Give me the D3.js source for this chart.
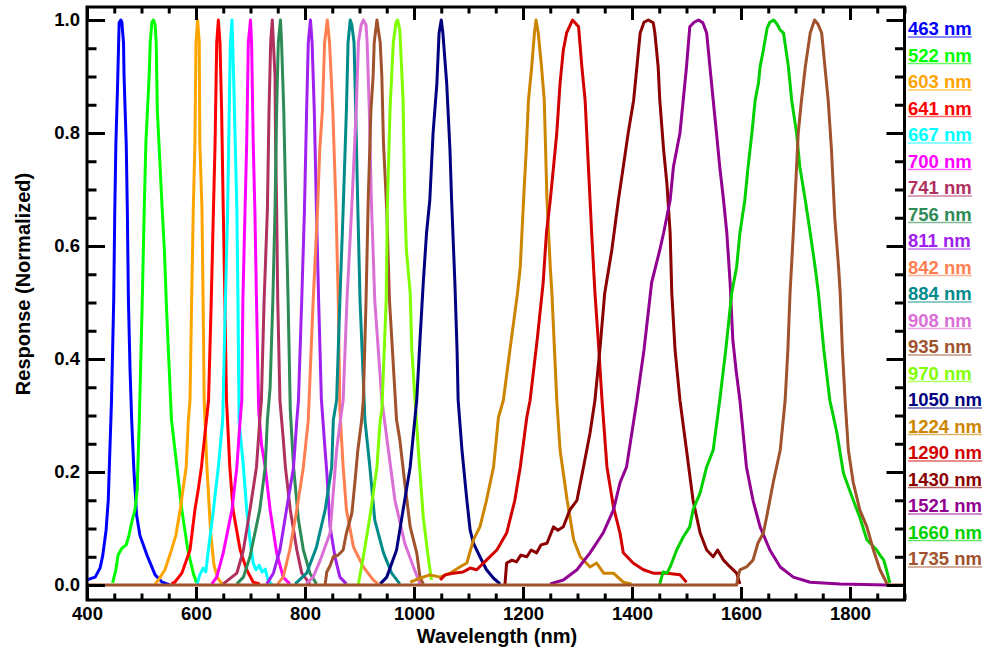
<!DOCTYPE html>
<html><head><meta charset="utf-8">
<script src="https://cdn.jsdelivr.net/npm/d3@7"></script>
<style>
body{margin:0;background:#fff}
text{font-family:"Liberation Sans",Arial,Helvetica,sans-serif;font-weight:bold}
</style>
</head><body>
<svg id="chart" width="987" height="650"></svg>
<script>
// ---------- data ----------
const bandLabels = ["463 nm","522 nm","603 nm","641 nm","667 nm","700 nm","741 nm","756 nm","811 nm","842 nm","884 nm","908 nm","935 nm","970 nm","1050 nm","1224 nm","1290 nm","1430 nm","1521 nm","1660 nm","1735 nm"];
const xMajorTicks = [400,600,800,1000,1200,1400,1600,1800];
const yMajorTicks = [0,0.2,0.4,0.6,0.8,1.0];
const yTickLabels = ["0.0","0.2","0.4","0.6","0.8","1.0"];

const r463 = [[400,0.009],[415,0.014],[424,0.03],[429,0.053],[435,0.097],[439,0.15],[442,0.239],[445,0.327],[449,0.504],[451,0.664],[453,0.782],[456,0.881],[459,0.995],[462,1],[464,0.996],[467,0.96],[468,0.9],[472,0.78],[474,0.664],[476,0.504],[479,0.38],[482,0.292],[486,0.204],[491,0.124],[497,0.088],[510,0.053],[525,0.018],[538,0.005],[552,0]];
const r522 = [[447,0.004],[453,0.027],[457,0.053],[464,0.065],[472,0.071],[477,0.088],[483,0.115],[488,0.133],[492,0.168],[496,0.292],[501,0.487],[505,0.664],[508,0.782],[511,0.841],[514,0.9],[516,0.96],[519,0.996],[522,1],[525,0.991],[527,0.96],[529,0.841],[532,0.782],[538,0.664],[542,0.593],[546,0.487],[555,0.292],[565,0.209],[574,0.133],[585,0.062],[595,0.021],[601,0.004]];
const r603 = [[525,0.002],[531,0.009],[543,0.027],[555,0.062],[563,0.088],[571,0.133],[576,0.168],[582,0.209],[586,0.292],[589,0.327],[592,0.504],[595,0.664],[598,0.782],[600,0.96],[603,1],[606,0.96],[607,0.782],[611,0.664],[613,0.504],[615,0.327],[620,0.209],[627,0.092],[633,0.035],[640,0.012],[648,0.002]];
const r641 = [[555,0.002],[561,0.005],[574,0.021],[589,0.062],[598,0.133],[604,0.168],[610,0.209],[623,0.327],[628,0.504],[632,0.664],[635,0.782],[638,0.96],[641,1],[644,0.96],[647,0.841],[650,0.664],[653,0.504],[656,0.327],[662,0.209],[668,0.133],[681,0.062],[693,0.027],[705,0.005],[717,0.002]];
const r667 = [[602,0.002],[607,0.018],[613,0.03],[618,0.023],[622,0.057],[632,0.133],[641,0.209],[649,0.292],[654,0.504],[658,0.664],[661,0.841],[663,0.96],[666,1],[669,0.9],[672,0.782],[675,0.664],[677,0.504],[679,0.292],[687,0.209],[693,0.133],[699,0.08],[705,0.039],[710,0.027],[716,0.035],[721,0.023],[727,0.028],[732,0.009],[740,0]];
const r700 = [[629,0.002],[638,0.014],[650,0.057],[666,0.133],[675,0.209],[681,0.292],[684,0.327],[686,0.504],[690,0.664],[693,0.782],[696,0.96],[700,1],[702,0.96],[705,0.782],[708,0.664],[711,0.504],[715,0.31],[720,0.25],[727,0.209],[736,0.133],[748,0.057],[760,0.014],[772,0.002]];
const r741 = [[650,0.002],[675,0.021],[687,0.062],[699,0.133],[711,0.209],[717,0.292],[720,0.327],[725,0.504],[731,0.664],[734,0.841],[737,0.96],[740,1],[745,0.9],[746,0.782],[748,0.664],[750,0.504],[754,0.327],[760,0.26],[764,0.209],[773,0.133],[785,0.062],[794,0.021],[809,0.002]];
const r756 = [[675,0.002],[687,0.014],[699,0.05],[717,0.133],[727,0.209],[731,0.292],[736,0.35],[741,0.504],[745,0.664],[748,0.841],[751,0.96],[755,1],[757,0.96],[761,0.841],[765,0.664],[769,0.504],[773,0.31],[779,0.209],[788,0.115],[797,0.062],[809,0.021],[821,0.002]];
const r811 = [[730,0.002],[742,0.021],[754,0.062],[766,0.133],[779,0.209],[785,0.292],[788,0.327],[794,0.504],[799,0.664],[803,0.841],[806,0.96],[810,1],[813,0.96],[817,0.841],[821,0.664],[825,0.504],[830,0.33],[836,0.25],[840,0.2],[846,0.103],[855,0.05],[864,0.014],[876,0.002]];
const r842 = [[750,0.002],[760,0.014],[772,0.062],[785,0.133],[797,0.209],[806,0.292],[815,0.504],[823,0.664],[827,0.77],[832,0.841],[836,0.96],[841,1],[845,0.96],[851,0.841],[857,0.664],[861,0.504],[864,0.31],[870,0.209],[876,0.133],[889,0.067],[907,0.032],[925,0.009],[934,0.002]];
const r884 = [[782,0.002],[803,0.021],[821,0.067],[837,0.133],[849,0.209],[852,0.292],[858,0.327],[864,0.504],[870,0.664],[876,0.841],[879,0.96],[883,1],[886,0.991],[890,0.96],[893,0.841],[897,0.664],[901,0.504],[910,0.292],[919,0.209],[928,0.115],[944,0.057],[959,0.021],[974,0.002]];
const r908 = [[802,0.002],[815,0.014],[828,0.044],[846,0.092],[858,0.239],[865,0.292],[870,0.327],[877,0.504],[886,0.673],[894,0.841],[898,0.96],[903,0.991],[907,1],[912,0.991],[914,0.96],[918,0.841],[922,0.673],[928,0.504],[941,0.327],[953,0.239],[965,0.15],[983,0.074],[999,0.032],[1011,0.002]];
const r935 = [[837,0.002],[840,0.023],[846,0.034],[852,0.05],[861,0.053],[870,0.062],[876,0.092],[886,0.127],[892,0.186],[897,0.239],[904,0.292],[907,0.327],[912,0.504],[916,0.681],[921,0.841],[925,0.9],[927,0.96],[932,1],[938,0.96],[941,0.9],[944,0.782],[950,0.664],[955,0.504],[968,0.292],[974,0.257],[983,0.181],[993,0.103],[1005,0.057],[1011,0.014],[1017,0.002]];
const r970 = [[898,0.002],[907,0.05],[919,0.12],[932,0.209],[938,0.292],[941,0.31],[949,0.504],[951,0.664],[956,0.841],[962,0.96],[967,0.996],[970,1],[974,0.982],[980,0.858],[983,0.681],[986,0.593],[993,0.517],[996,0.416],[1002,0.327],[1008,0.239],[1017,0.12],[1026,0.05],[1032,0.009]];
const r1050 = [[938,0.002],[950,0.014],[968,0.062],[980,0.133],[993,0.209],[1005,0.327],[1011,0.434],[1017,0.535],[1023,0.623],[1029,0.681],[1035,0.8],[1042,0.888],[1046,0.977],[1050,1],[1053,0.977],[1060,0.888],[1066,0.77],[1069,0.681],[1075,0.535],[1079,0.416],[1081,0.327],[1088,0.239],[1097,0.15],[1103,0.097],[1109,0.074],[1121,0.05],[1133,0.027],[1146,0.012],[1158,0.002]];
const r1224 = [[993,0.005],[1011,0.012],[1029,0.018],[1048,0.014],[1066,0.021],[1084,0.032],[1097,0.039],[1109,0.08],[1121,0.103],[1133,0.15],[1146,0.209],[1155,0.297],[1164,0.327],[1176,0.416],[1190,0.517],[1195,0.563],[1201,0.681],[1206,0.77],[1210,0.858],[1216,0.917],[1221,0.977],[1224,1],[1228,0.977],[1234,0.917],[1239,0.858],[1244,0.681],[1250,0.563],[1253,0.517],[1262,0.327],[1268,0.239],[1281,0.15],[1293,0.08],[1305,0.05],[1323,0.032],[1335,0.039],[1348,0.021],[1366,0.021],[1384,0.005],[1399,0.002]];
const r1290 = [[1048,0.009],[1057,0.018],[1072,0.021],[1090,0.023],[1103,0.03],[1115,0.027],[1133,0.044],[1152,0.062],[1170,0.092],[1185,0.15],[1195,0.209],[1207,0.297],[1213,0.327],[1226,0.434],[1237,0.535],[1243,0.623],[1250,0.681],[1256,0.74],[1262,0.8],[1268,0.888],[1274,0.947],[1280,0.977],[1291,1],[1302,0.988],[1308,0.917],[1314,0.858],[1320,0.74],[1326,0.623],[1332,0.517],[1338,0.434],[1345,0.327],[1354,0.209],[1366,0.138],[1378,0.092],[1384,0.057],[1402,0.039],[1421,0.027],[1439,0.021],[1464,0.021],[1488,0.018],[1500,0.005]];
const r1430 = [[1167,0.002],[1170,0.039],[1180,0.044],[1188,0.041],[1196,0.053],[1207,0.05],[1215,0.062],[1225,0.057],[1233,0.071],[1244,0.074],[1256,0.103],[1264,0.097],[1274,0.103],[1286,0.133],[1299,0.15],[1311,0.209],[1323,0.269],[1332,0.327],[1341,0.416],[1350,0.517],[1363,0.593],[1375,0.681],[1384,0.74],[1393,0.8],[1403,0.858],[1409,0.917],[1415,0.977],[1422,0.996],[1430,1],[1439,0.995],[1442,0.977],[1448,0.917],[1451,0.858],[1458,0.77],[1464,0.711],[1470,0.623],[1473,0.517],[1479,0.416],[1488,0.327],[1500,0.239],[1512,0.15],[1525,0.092],[1537,0.062],[1549,0.05],[1557,0.062],[1568,0.044],[1580,0.032],[1592,0.021],[1598,0.002]];
const r1521 = [[1250,0.002],[1274,0.009],[1299,0.027],[1323,0.057],[1347,0.092],[1366,0.133],[1378,0.181],[1390,0.209],[1409,0.327],[1422,0.416],[1436,0.535],[1451,0.593],[1458,0.623],[1470,0.681],[1476,0.74],[1482,0.77],[1488,0.8],[1494,0.858],[1500,0.917],[1506,0.988],[1514,0.996],[1522,1],[1530,0.995],[1537,0.977],[1543,0.917],[1549,0.858],[1555,0.8],[1561,0.74],[1568,0.681],[1574,0.623],[1580,0.535],[1585,0.434],[1591,0.38],[1598,0.327],[1610,0.209],[1622,0.15],[1635,0.103],[1653,0.062],[1672,0.032],[1696,0.014],[1727,0.005],[1782,0.002],[1867,0]];
const r1660 = [[1451,0.002],[1457,0.023],[1464,0.021],[1470,0.032],[1482,0.062],[1494,0.085],[1506,0.103],[1512,0.133],[1525,0.163],[1537,0.209],[1549,0.239],[1561,0.327],[1572,0.416],[1583,0.517],[1592,0.563],[1598,0.623],[1607,0.681],[1613,0.74],[1620,0.8],[1626,0.858],[1632,0.888],[1635,0.917],[1641,0.947],[1648,0.986],[1653,0.996],[1660,1],[1666,0.993],[1672,0.982],[1678,0.977],[1687,0.917],[1693,0.858],[1702,0.8],[1708,0.74],[1718,0.681],[1727,0.623],[1736,0.563],[1742,0.517],[1752,0.416],[1763,0.327],[1776,0.269],[1788,0.198],[1806,0.15],[1818,0.12],[1831,0.08],[1849,0.062],[1855,0.053],[1862,0.044],[1867,0.027],[1873,0.004]];
const r1735 = [[400,0],[1592,0],[1594,0.012],[1598,0.027],[1610,0.032],[1622,0.044],[1631,0.074],[1641,0.092],[1647,0.12],[1659,0.181],[1672,0.239],[1681,0.327],[1686,0.416],[1690,0.517],[1696,0.623],[1699,0.681],[1702,0.74],[1705,0.8],[1711,0.858],[1718,0.917],[1727,0.977],[1735,1],[1741,0.993],[1748,0.977],[1754,0.917],[1760,0.858],[1766,0.77],[1769,0.711],[1772,0.651],[1779,0.563],[1782,0.517],[1786,0.416],[1791,0.327],[1797,0.239],[1806,0.181],[1818,0.133],[1831,0.103],[1843,0.062],[1855,0.027],[1867,0.004],[1870,0],[1900,0]];

const seriesData = [r463,r522,r603,r641,r667,r700,r741,r756,r811,r842,r884,r908,r935,r970,r1050,r1224,r1290,r1430,r1521,r1660,r1735];

// ---------- styles ----------
const seriesColors = ["#0000ff","#00ff00","#ffa500","#ff0000","#00ffff","#ff00ff","#b03060","#2e8b57","#a020f0","#ff7f50","#008b8b","#da70d6","#a0522d","#7fff00","#000080","#cd8500","#d20000","#8b0000","#920092","#00d000","#a0522d"];

const L = 87, R = 904.5, T = 7, B = 600;
const svg = d3.select("#chart");

const x = d3.scaleLinear().domain([400,1900]).range([L,R]);
const y = d3.scaleLinear().domain([-0.0265,1.023]).range([B,T]);

svg.append("defs").append("clipPath").attr("id","clip")
  .append("rect").attr("x",L).attr("y",T).attr("width",R-L).attr("height",B-T);

// curves
const line = d3.line().x(d=>x(d[0])).y(d=>y(d[1]));
const g = svg.append("g").attr("clip-path","url(#clip)");
seriesData.forEach((s,i)=>{
  g.append("path").datum(s).attr("d",line)
   .attr("fill","none").attr("stroke",seriesColors[i])
   .attr("stroke-width",3).attr("stroke-linejoin","round");
});

// minor ticks
const xMinor = d3.range(400,1901,50).filter(v=>v%200!==0);
const yMinor = d3.range(0,21).map(k=>k*0.05).filter((v,k)=>k%4!==0);

const noDomain = sel => sel.select(".domain").remove();

// bottom
svg.append("g").attr("transform",`translate(0,${B})`)
  .call(d3.axisBottom(x).tickValues(xMinor).tickSize(-6.5).tickFormat(""))
  .call(noDomain);
svg.append("g").attr("transform",`translate(0,${B})`)
  .call(d3.axisBottom(x).tickValues(xMajorTicks).tickSize(-13).tickPadding(7).tickFormat(d3.format("d")))
  .call(noDomain);
// top
svg.append("g").attr("transform",`translate(0,${T})`)
  .call(d3.axisTop(x).tickValues(xMinor).tickSize(-6.5).tickFormat(""))
  .call(noDomain);
svg.append("g").attr("transform",`translate(0,${T})`)
  .call(d3.axisTop(x).tickValues(xMajorTicks).tickSize(-13).tickFormat(""))
  .call(noDomain);
// left
svg.append("g").attr("transform",`translate(${L},0)`)
  .call(d3.axisLeft(y).tickValues(yMinor).tickSize(-9.5).tickFormat(""))
  .call(noDomain);
svg.append("g").attr("transform",`translate(${L},0)`)
  .call(d3.axisLeft(y).tickValues(yMajorTicks).tickSize(-18).tickPadding(7).tickFormat((d,i)=>yTickLabels[i]))
  .call(noDomain);
// right
svg.append("g").attr("transform",`translate(${R},0)`)
  .call(d3.axisRight(y).tickValues(yMinor).tickSize(-9.5).tickFormat(""))
  .call(noDomain);
svg.append("g").attr("transform",`translate(${R},0)`)
  .call(d3.axisRight(y).tickValues(yMajorTicks).tickSize(-18).tickFormat(""))
  .call(noDomain);

svg.selectAll(".tick line").attr("stroke","#000").attr("stroke-width",3);
svg.selectAll(".tick text").attr("fill","#000")
  .style("font-size","18.5px").style("font-weight","bold")
  .style("font-family",'"Liberation Sans",Arial,sans-serif');

// frame
svg.append("rect").attr("x",L).attr("y",T).attr("width",R-L).attr("height",B-T)
  .attr("fill","none").attr("stroke","#000").attr("stroke-width",3);

// axis titles
svg.append("text").attr("x",497).attr("y",642.5).attr("text-anchor","middle")
  .style("font-size","20px").text("Wavelength (nm)");
svg.append("text").attr("transform","translate(30,284) rotate(-90)").attr("text-anchor","middle")
  .style("font-size","20px").text("Response (Normalized)");

// legend
const lg = svg.append("g");
bandLabels.forEach((lab,i)=>{
  const yy = 35 + i*26.5;
  const t = lg.append("text").attr("x",908).attr("y",yy)
    .attr("fill",seriesColors[i]).style("font-size","18.5px").text(lab);
  const w = t.node().getComputedTextLength();
  lg.append("line").attr("x1",908).attr("x2",908+w).attr("y1",yy+2).attr("y2",yy+2)
    .attr("stroke",seriesColors[i]).attr("stroke-width",1.5).attr("opacity",0.6);
});
</script>
</body></html>
